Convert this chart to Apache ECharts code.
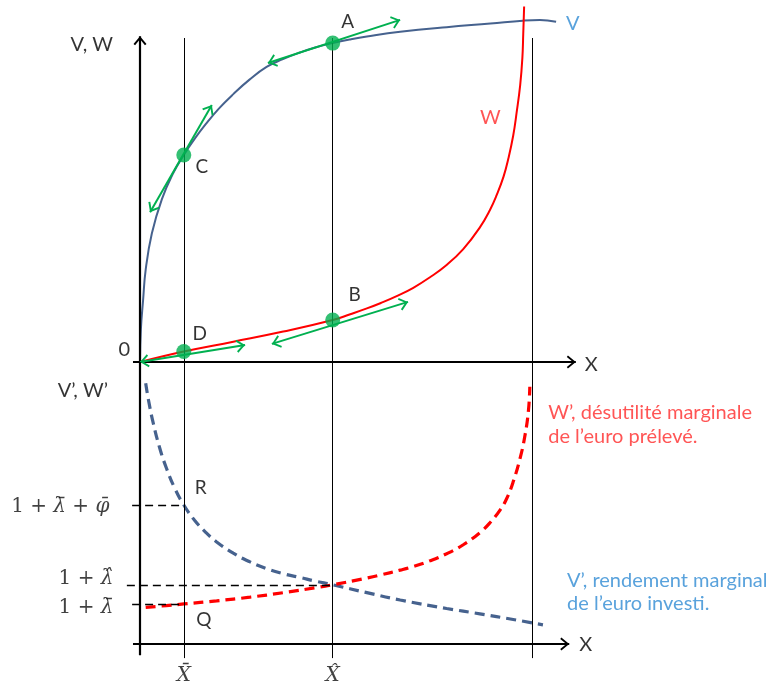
<!DOCTYPE html>
<html>
<head>
<meta charset="utf-8">
<script src="https://cdn.jsdelivr.net/npm/echarts@6/dist/echarts.min.js"></script>
<style>
  html, body { margin: 0; padding: 0; background: #ffffff; }
  #chart { width: 776px; height: 689px; }
</style>
</head>
<body>
<div id="chart"></div>
<script>
// Reference levels of X shared by both panels
const X_BAR = 1.0;   // X̄
const X_HAT = 4.4;   // X̂
const X_CAP = 8.95;  // asymptote of W and W'

// Upper panel: total return V(X) and total disutility W(X)
const vCurve = [[0, 0], [0.02, 0.9], [0.07, 1.7], [0.13, 2.55], [0.27, 3.55], [0.5, 4.5],
  [0.75, 5.2], [1.0, 5.72], [1.25, 6.17], [1.5, 6.57], [1.8, 7.0], [2.13, 7.4], [2.5, 7.8],
  [2.89, 8.15], [3.25, 8.36], [3.65, 8.55], [4.0, 8.69], [4.4, 8.81], [4.8, 8.91], [5.18, 8.99],
  [5.94, 9.12], [7.0, 9.25], [8.0, 9.35], [8.74, 9.43], [9.13, 9.45], [9.5, 9.40]];
const wCurve = [[0, 0], [1.0, 0.29], [2.13, 0.56], [3.27, 0.84], [4.4, 1.16], [4.8, 1.32],
  [5.18, 1.48], [5.5, 1.63], [5.86, 1.82], [6.24, 2.05], [6.62, 2.34], [7.0, 2.68], [7.38, 3.12],
  [7.76, 3.72], [7.99, 4.2], [8.14, 4.6], [8.30, 5.12], [8.41, 5.62], [8.52, 6.25], [8.60, 6.9],
  [8.68, 7.65], [8.73, 8.4], [8.75, 9.07], [8.77, 9.82]];

// Marked points on V and W
const pointNames = ['A', 'B', 'C', 'D'];
const pointCoords = [[4.4, 8.81], [4.4, 1.16], [1.0, 5.72], [1.0, 0.29]];

// Tangent arrows through each marked point (tail, head)
const tangentA = [[2.92, 8.26], [5.94, 9.45]];
const tangentB = [[3.01, 0.50], [6.12, 1.66]];
const tangentC = [[0.23, 4.14], [1.64, 7.10]];
const tangentD = [[0.0, 0.0], [2.40, 0.47]];

// Lower panel: marginal return V'(X) and marginal disutility W'(X)
const vPrime = [[0.13, 9.25], [0.2, 8.6], [0.3, 7.85], [0.45, 6.95], [0.6, 6.25], [0.8, 5.5],
  [1.0, 4.93], [1.25, 4.38], [1.5, 3.96], [1.75, 3.62], [2.13, 3.22], [2.5, 2.92], [2.89, 2.67],
  [3.25, 2.5], [3.65, 2.36], [4.0, 2.23], [4.4, 2.1], [5.18, 1.82], [5.94, 1.56], [7.0, 1.26],
  [7.76, 1.07], [8.52, 0.87], [9.2, 0.68]];
const wPrime = [[0.13, 1.30], [0.6, 1.36], [1.0, 1.42], [1.75, 1.53], [2.51, 1.66], [3.27, 1.82],
  [4.03, 2.0], [4.4, 2.1], [5.18, 2.34], [5.5, 2.45], [5.94, 2.62], [6.24, 2.75], [6.62, 2.95],
  [7.0, 3.2], [7.38, 3.52], [7.76, 3.95], [7.99, 4.3], [8.22, 4.75], [8.37, 5.15], [8.52, 5.75],
  [8.68, 6.6], [8.79, 7.4], [8.87, 8.3], [8.9, 9.12]];

// Levels read on the V', W' axis
const LEVEL_R = 4.93;   // 1 + λ̄ + φ̄ = V'(X̄)
const LEVEL_HAT = 2.1;  // 1 + λ̂ = V'(X̂) = W'(X̂)
const LEVEL_Q = 1.42;   // 1 + λ̄ = W'(X̄)

const BLUE_CURVE = '#46628e';
const BLUE_TEXT = '#2f8bd3';
const RED = '#ff0000';
const RED_TEXT = '#ff2b2b';
const GREEN = '#00b050';
const SANS = 'Lato';
const SERIF = 'DejaVu Serif';

// Open chevron arrow head, tip at the top of its box
const CHEVRON = 'path://M5,0 L10,7 L8.8,8 L5,2.6 L1.2,8 L0,7 Z';

function seg(a, b, lineStyle) {
  return [{ coord: a, lineStyle: lineStyle }, { coord: b }];
}

function lineLayer(grid, items, opts) {
  return {
    type: 'line', xAxisIndex: grid, yAxisIndex: grid, data: [], silent: true, clip: false,
    z: opts.z || 2,
    markLine: {
      silent: true, animation: false,
      symbol: opts.symbol || 'none',
      symbolSize: opts.symbolSize || [11, 8],
      symbolOffset: [[0, '50%'], [0, '50%']],
      label: { show: false },
      emphasis: { disabled: true },
      lineStyle: opts.lineStyle,
      data: items
    }
  };
}

function curve(grid, data, color, width, type) {
  return {
    type: 'line', xAxisIndex: grid, yAxisIndex: grid, data: data,
    smooth: 0.45, symbol: 'none', silent: true, z: 3,
    lineStyle: { color: color, width: width, type: type || 'solid' }
  };
}

function textLayer(grid, items) {
  return {
    type: 'scatter', xAxisIndex: grid, yAxisIndex: grid, silent: true, clip: false, z: 6,
    symbolSize: 0,
    data: items.map(function (t) {
      return {
        value: t.at,
        label: Object.assign({
          show: true, position: 'inside', formatter: t.text,
          fontFamily: SANS, fontSize: 20, color: '#000'
        }, t.style)
      };
    })
  };
}

const mathRich = {
  n: { fontFamily: SERIF, fontSize: 20, color: '#111' },
  i: { fontFamily: SERIF, fontSize: 20, fontStyle: 'italic', color: '#111' }
};

const chart = echarts.init(document.getElementById('chart'), null, { renderer: 'canvas' });

const option = {
  backgroundColor: '#ffffff',
  animation: false,
  grid: [
    { left: 122.48, top: 0, width: 455.52, height: 362 },
    { left: 122.48, top: 362, width: 455.52, height: 296.1 }
  ],
  xAxis: [
    { type: 'value', gridIndex: 0, min: -0.4, max: 10, show: false },
    { type: 'value', gridIndex: 1, min: -0.4, max: 10, show: false }
  ],
  yAxis: [
    { type: 'value', gridIndex: 0, min: 0, max: 10, show: false },
    { type: 'value', gridIndex: 1, min: -0.5, max: 10, show: false }
  ],
  series: [
    // ---- upper panel ----
    lineLayer(0, [
      seg([X_BAR, 8.95], [X_BAR, 0]),
      seg([X_HAT, 8.95], [X_HAT, 0]),
      seg([X_CAP, 8.95], [X_CAP, 0])
    ], { lineStyle: { color: '#000', width: 1, type: 'solid' }, z: 1 }),
    lineLayer(0, [
      seg([0, 0], [0, 9.0]),
      seg([-0.16, 0], [9.95, 0])
    ], { symbol: ['none', CHEVRON], symbolSize: [13, 9], lineStyle: { color: '#000', width: 2.2, type: 'solid' }, z: 2 }),
    curve(0, vCurve, BLUE_CURVE, 2),
    curve(0, wCurve, RED, 2),
    lineLayer(0, [
      seg(tangentA[0], tangentA[1]),
      seg(tangentB[0], tangentB[1]),
      seg(tangentC[0], tangentC[1]),
      seg(tangentD[0], tangentD[1])
    ], { symbol: [CHEVRON, CHEVRON], symbolSize: [13, 9], lineStyle: { color: GREEN, width: 2, type: 'solid' }, z: 4 }),
    {
      type: 'scatter', xAxisIndex: 0, yAxisIndex: 0, z: 5, silent: true,
      symbol: 'circle', symbolSize: 15, itemStyle: { color: GREEN },
      data: pointCoords.map(function (c, i) {
        const offs = { A: [15, -21], B: [22, -25], C: [18, 12], D: [16, -18] };
        return {
          value: c,
          label: {
            show: true, position: 'inside', formatter: pointNames[i], offset: offs[pointNames[i]],
            fontFamily: SANS, fontSize: 19, color: '#000'
          }
        };
      })
    },
    textLayer(0, [
      { at: [0, 8.76], text: 'V, W', style: { align: 'right', offset: [-27, 0] } },
      { at: [0, 0], text: '0', style: { align: 'right', offset: [-10, -12] } },
      { at: [9.95, 0], text: 'X', style: { align: 'left', offset: [9, 3] } },
      { at: vCurve[vCurve.length - 1], text: 'V', style: { align: 'left', offset: [10, 2], color: BLUE_TEXT } },
      { at: [8.0, 6.74], text: 'W', style: { color: RED_TEXT } }
    ]),

    // ---- lower panel ----
    lineLayer(1, [
      seg([X_BAR, 10], [X_BAR, -0.5]),
      seg([X_HAT, 10], [X_HAT, -0.5]),
      seg([X_CAP, 10], [X_CAP, -0.5])
    ], { lineStyle: { color: '#000', width: 1, type: 'solid' }, z: 1 }),
    lineLayer(1, [
      seg([-0.18, LEVEL_R], [X_BAR, LEVEL_R]),
      seg([-0.3, LEVEL_HAT], [X_HAT, LEVEL_HAT]),
      seg([-0.18, LEVEL_Q], [X_BAR, LEVEL_Q])
    ], { lineStyle: { color: '#000', width: 1.3, type: [8, 5] }, z: 1 }),
    lineLayer(1, [
      seg([0, 10], [0, -0.4])
    ], { lineStyle: { color: '#000', width: 2.2, type: 'solid' }, z: 2 }),
    lineLayer(1, [
      seg([-0.16, 0], [9.8, 0])
    ], { symbol: ['none', CHEVRON], symbolSize: [13, 9], lineStyle: { color: '#000', width: 2.2, type: 'solid' }, z: 2 }),
    curve(1, vPrime, BLUE_CURVE, 3.2, [10, 6]),
    curve(1, wPrime, RED, 3.2, [10, 6]),
    textLayer(1, [
      { at: [0, 9.0], text: 'V’, W’', style: { align: 'right', offset: [-32, 0] } },
      { at: [X_BAR, LEVEL_R], text: 'R', style: { offset: [17, -17], fontSize: 19 } },
      { at: [X_BAR, LEVEL_Q], text: 'Q', style: { offset: [20, 16], fontSize: 19 } },
      { at: [9.8, 0], text: 'X', style: { align: 'left', offset: [10, 1] } },
      { at: [-0.4, LEVEL_R], text: '{n|1 + }{i|λ̄}{n| + }{i|φ̄}', style: { align: 'right', offset: [-13, 2], rich: mathRich } },
      { at: [-0.4, LEVEL_HAT], text: '{n|1 + }{i|λ̂}', style: { align: 'right', offset: [-9, -6], rich: mathRich } },
      { at: [-0.4, LEVEL_Q], text: '{n|1 + }{i|λ̄}', style: { align: 'right', offset: [-9, 4], rich: mathRich } },
      { at: [X_BAR, -0.5], text: '{i|X̄}', style: { offset: [0, 18], rich: mathRich } },
      { at: [X_HAT, -0.5], text: '{i|X̂}', style: { offset: [0, 18], rich: mathRich } },
      { at: [9.32, 7.77], text: 'W’, désutilité marginale\nde l’euro prélevé.',
        style: { align: 'left', color: RED_TEXT, fontSize: 20, lineHeight: 24 } },
      { at: [9.75, 1.86], text: 'V’, rendement marginal\nde l’euro investi.',
        style: { align: 'left', color: BLUE_TEXT, fontSize: 20, lineHeight: 23 } }
    ])
  ]
};

chart.setOption(option);
</script>
</body>
</html>
